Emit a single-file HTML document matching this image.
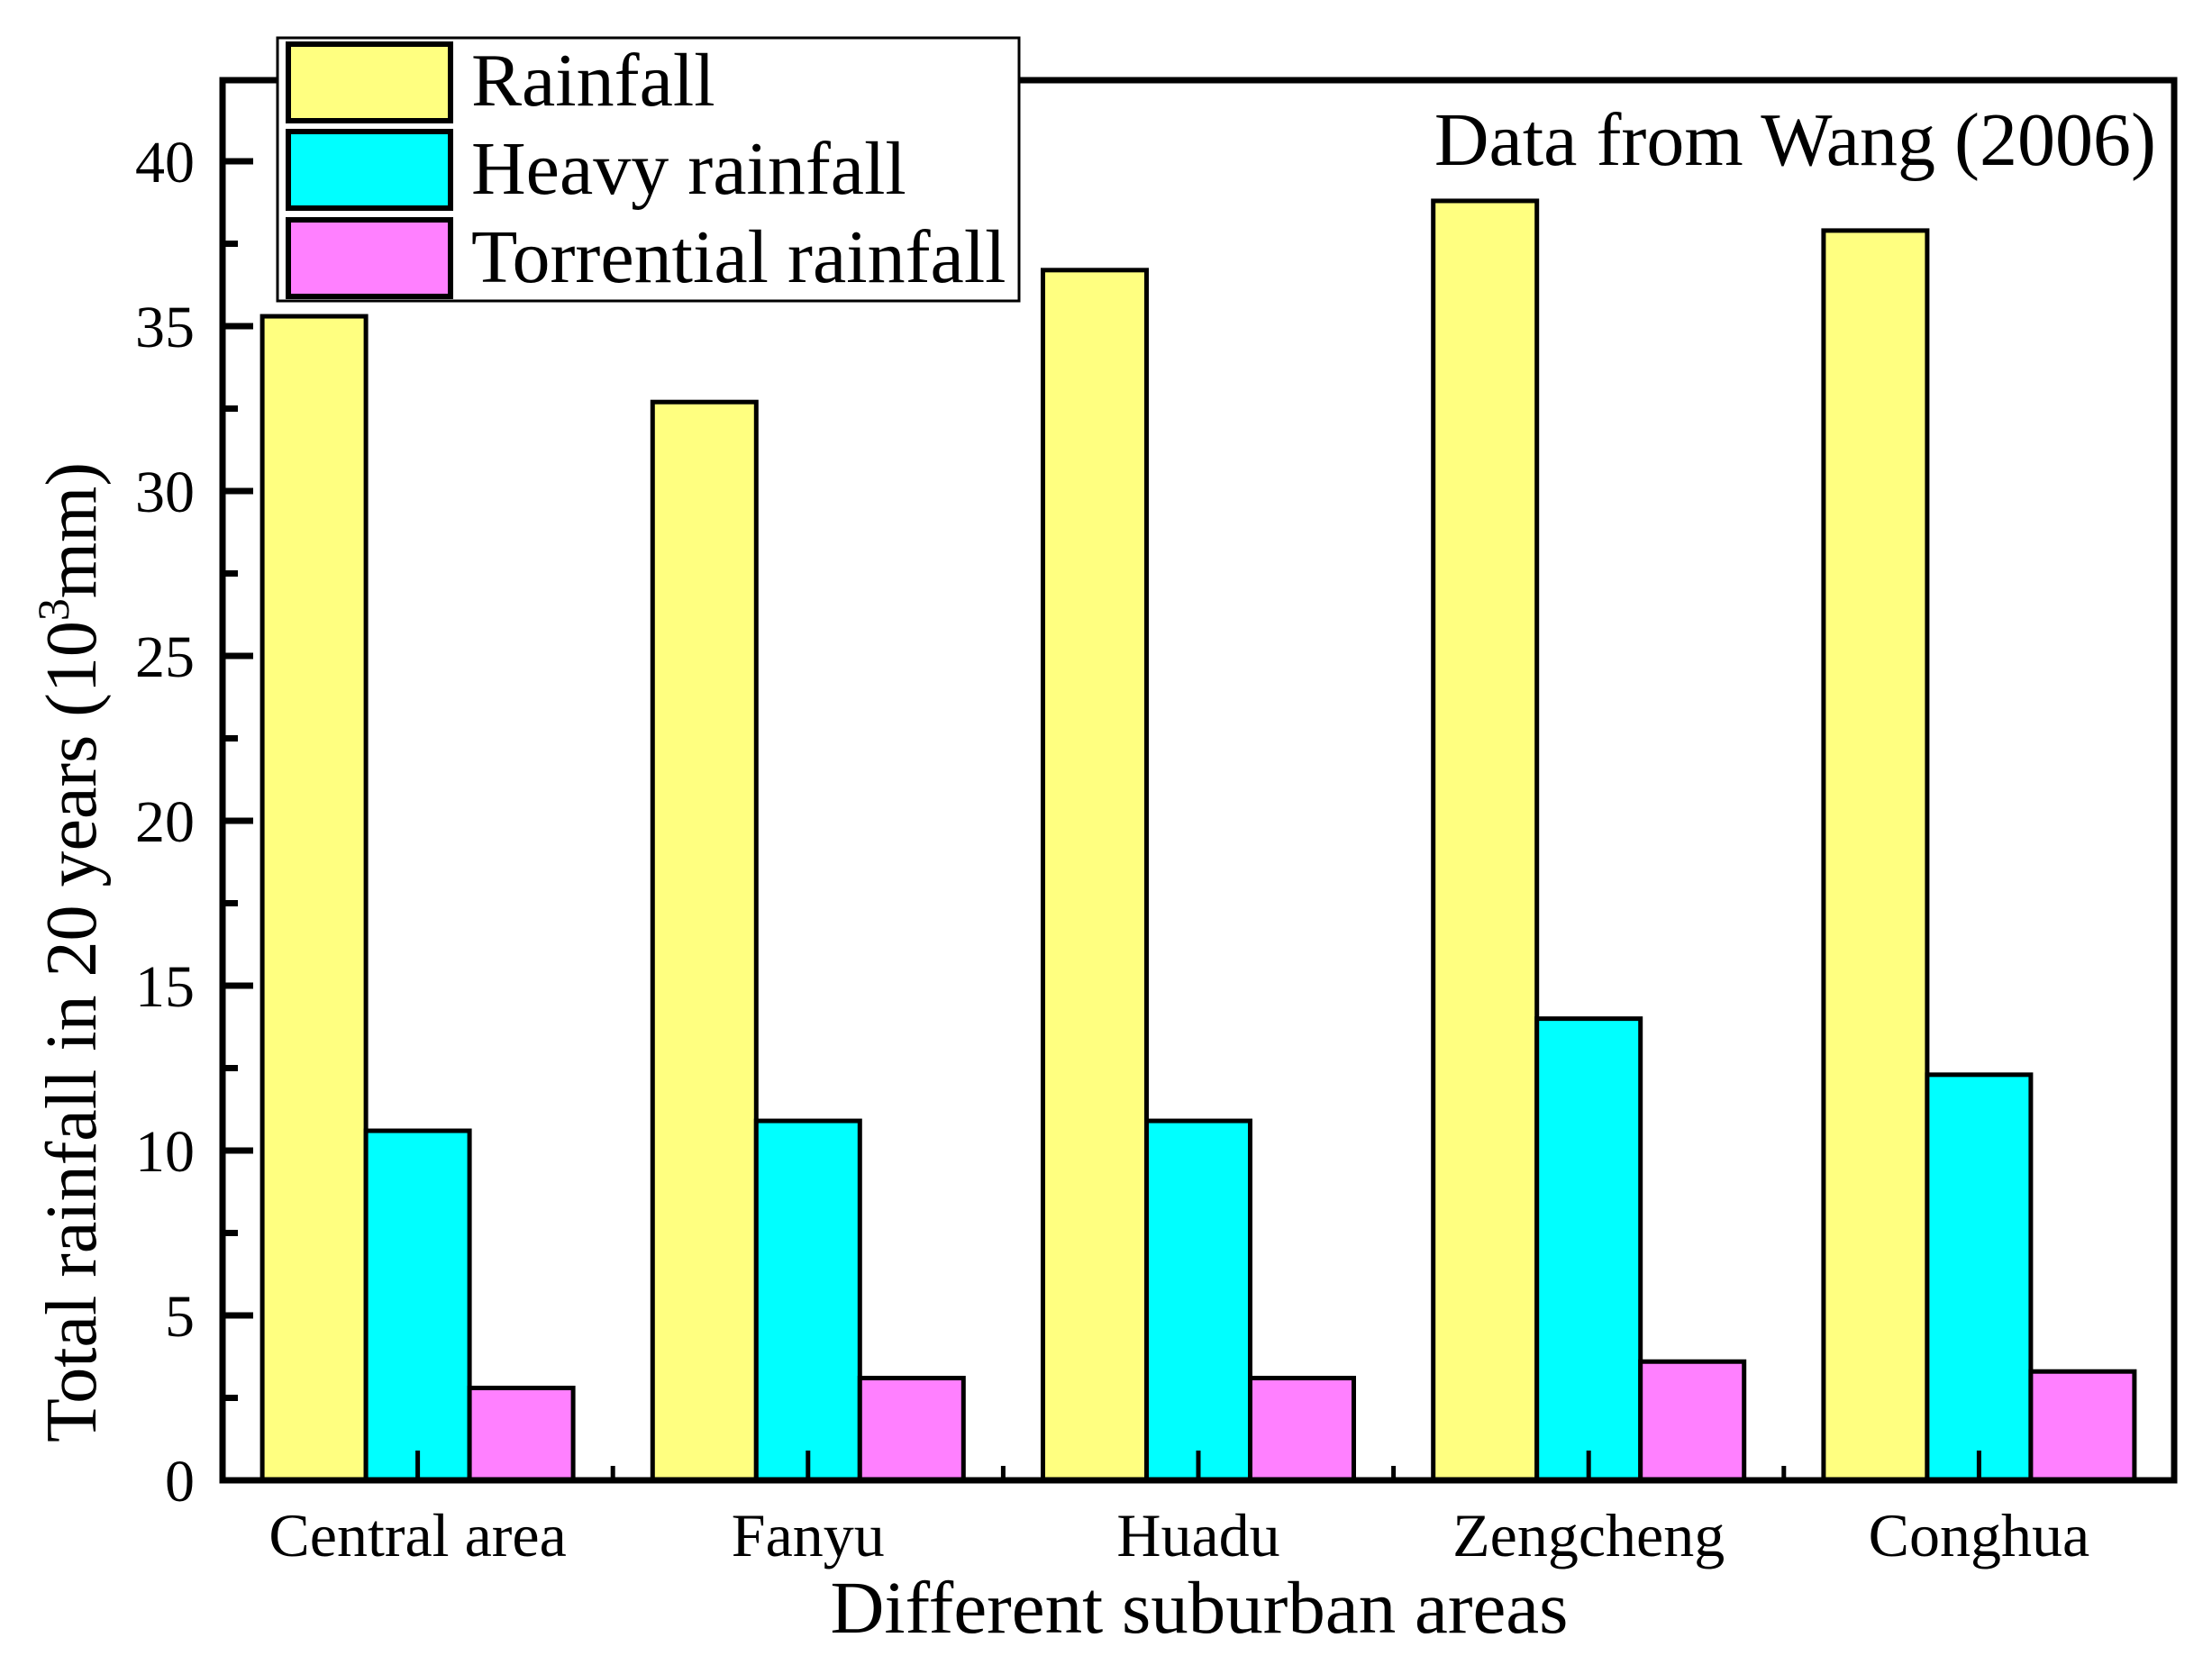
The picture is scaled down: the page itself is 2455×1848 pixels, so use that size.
<!DOCTYPE html>
<html><head><meta charset="utf-8"><style>
html,body{margin:0;padding:0;background:#fff}
svg{display:block}
text{font-family:"Liberation Serif",serif;fill:#000}
</style></head><body>
<svg id="chart" width="2455" height="1848" viewBox="0 0 2455 1848" xmlns="http://www.w3.org/2000/svg">
<g id="bars"></g>
<g id="axes"></g>
<text x="2393" y="183" font-size="84" text-anchor="end">Data from Wang (2006)</text>
<text x="1331" y="1812" font-size="83" text-anchor="middle">Different suburban areas</text>
<text transform="translate(106,1057) rotate(-90)" font-size="80" text-anchor="middle">Total rainfall in 20 years (10<tspan font-size="50" dy="-30">3</tspan><tspan dy="30">mm)</tspan></text>
<g>
<rect x="308" y="42" width="823" height="292" fill="#fff" stroke="#000" stroke-width="3"/>
<rect x="320" y="49" width="180" height="85" fill="#ffff80" stroke="#000" stroke-width="6"/>
<text x="523" y="117" font-size="84">Rainfall</text>
<rect x="320" y="146" width="180" height="85" fill="#00ffff" stroke="#000" stroke-width="6"/>
<text x="523" y="215" font-size="84">Heavy rainfall</text>
<rect x="320" y="244" width="180" height="85" fill="#ff80ff" stroke="#000" stroke-width="6"/>
<text x="523" y="313" font-size="84">Torrential rainfall</text>
</g>
</svg>
<script>
const categories = ["Central area", "Fanyu", "Huadu", "Zengcheng", "Conghua"];
const rainfall = [35.3, 32.7, 36.7, 38.8, 37.9];
const heavyRainfall = [10.6, 10.9, 10.9, 14.0, 12.3];
const torrentialRainfall = [2.8, 3.1, 3.1, 3.6, 3.3];
const yTicks = [0, 5, 10, 15, 20, 25, 30, 35, 40];

const NS = "http://www.w3.org/2000/svg";
const L = 247, R = 2413, T = 89, B = 1643, YMAX = 42.46;
const bw = (R - L) / categories.length;
const barW = 115;
const y = v => B - v / YMAX * (B - T);
const xc = i => L + bw * (i + 0.5);
function mk(tag, attrs, parent) {
  const e = document.createElementNS(NS, tag);
  for (const k in attrs) e.setAttribute(k, attrs[k]);
  parent.appendChild(e);
  return e;
}
const bars = document.getElementById('bars');
const axes = document.getElementById('axes');
const series = [[rainfall, '#ffff80', 'rainfall'], [heavyRainfall, '#00ffff', 'heavy'], [torrentialRainfall, '#ff80ff', 'torrential']];
series.forEach(([vals, col, nm], s) => {
  vals.forEach((v, i) => {
    const x0 = xc(i) + (s - 1.5) * barW;
    const r = mk('rect', {x: x0, y: y(v), width: barW, height: B - y(v), fill: col, stroke: '#000', 'stroke-width': 5}, bars);
    
    
  });
});
const f = mk('rect', {x: L, y: T, width: R - L, height: B - T, fill: 'none', stroke: '#000', 'stroke-width': 7}, axes);


yTicks.forEach(t => {
  const tk = mk('line', {x1: L, x2: L + 34, y1: y(t), y2: y(t), stroke: '#000', 'stroke-width': 7}, axes);
  
  
  const mt = t + 2.5;
  if (mt < YMAX) {
    const m = mk('line', {x1: L, x2: L + 17, y1: y(mt), y2: y(mt), stroke: '#000', 'stroke-width': 7}, axes);
    
    
  }
  const lb = mk('text', {x: 216, y: y(t) + 23, 'font-size': 66, 'text-anchor': 'end'}, axes);
  lb.textContent = t;
  
  
});
categories.forEach((c, i) => {
  const tk = mk('line', {x1: xc(i), x2: xc(i), y1: B, y2: B - 33, stroke: '#000', 'stroke-width': 5}, axes);
  
  
  if (i > 0) {
    const m = mk('line', {x1: L + bw * i, x2: L + bw * i, y1: B, y2: B - 16, stroke: '#000', 'stroke-width': 5}, axes);
    
    
  }
  const lb = mk('text', {x: xc(i), y: 1727, 'font-size': 68, 'text-anchor': 'middle'}, axes);
  lb.textContent = c;
  
  
});
</script>
</body></html>
